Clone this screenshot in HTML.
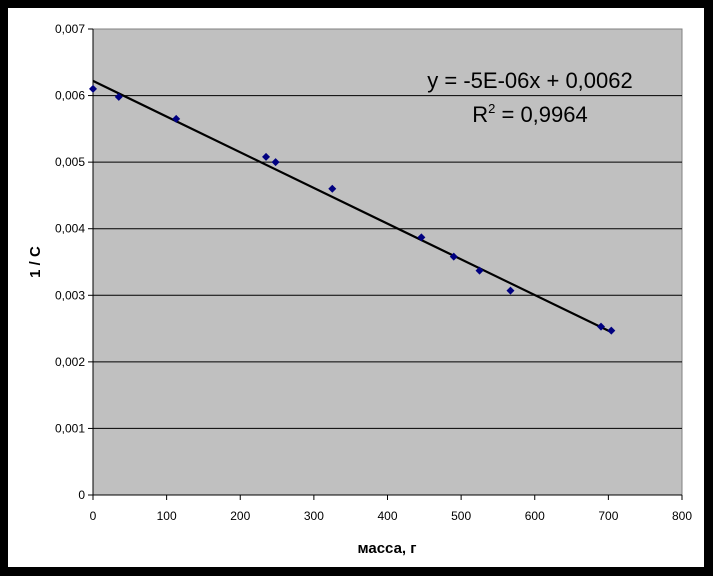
<!DOCTYPE html>
<html><head><meta charset="utf-8"><style>
body{margin:0;background:#000;}
svg{display:block;font-family:"Liberation Sans",Arial,sans-serif;}
</style></head><body>
<svg width="713" height="576">
<rect x="0" y="0" width="713" height="576" fill="#000"/>
<rect x="8" y="8" width="696" height="559" fill="#fff"/>
<rect x="93" y="29" width="589" height="466" fill="#c0c0c0" stroke="#808080"/>
<g id="grid"></g><g id="axes"></g><g id="trend"></g><g id="pts"></g>
<text x="360" y="88" font-size="22" text-anchor="middle"><tspan x="530">y = -5E-06x + 0,0062</tspan></text>
<text x="530" y="122" font-size="22" text-anchor="middle">R<tspan font-size="13" dy="-9">2</tspan><tspan dy="9"> = 0,9964</tspan></text>
<text x="387" y="553" font-size="15" font-weight="bold" text-anchor="middle">масса, г</text>
<text x="40" y="262" font-size="15" font-weight="bold" text-anchor="middle" transform="rotate(-90 40 262)">1 / C</text>
</svg>
<script>
const xVals=[0,35,113,235,248,325,446,490,525,567,690,704];
const yVals=[0.0061,0.00598,0.00565,0.00508,0.005,0.0046,0.00387,0.00358,0.00337,0.00307,0.00253,0.00247];
const xTicks=[0,100,200,300,400,500,600,700,800];
const yTicks=[0,0.001,0.002,0.003,0.004,0.005,0.006,0.007];
const yTickLabels=["0","0,001","0,002","0,003","0,004","0,005","0,006","0,007"];
const trendSlope=-5.36e-6, trendIntercept=0.00622;
const X0=93,X1=682,Y0=495,Y1=29;
const sx=v=>X0+(v-0)/(800)*(X1-X0);
const sy=v=>Y0-(v/0.007)*(Y0-Y1);
const NS="http://www.w3.org/2000/svg";
function mk(t,a,p){const e=document.createElementNS(NS,t);for(const k in a)e.setAttribute(k,a[k]);p.appendChild(e);return e;}
const grid=document.getElementById('grid'),axes=document.getElementById('axes'),trend=document.getElementById('trend'),pts=document.getElementById('pts');
yTicks.forEach((v,i)=>{const y=sy(v);
 if(v>0&&v<0.007){const g=mk('line',{x1:X0,x2:X1,y1:y,y2:y,stroke:'#000','stroke-width':1},grid);
 
 }
 const t=mk('line',{x1:X0-5,x2:X0,y1:y,y2:y,stroke:'#000'},axes);
 
 
 const l=mk('text',{x:X0-8,y:y+4,'font-size':12,'text-anchor':'end'},axes);l.textContent=yTickLabels[i];
 
 
});
xTicks.forEach(v=>{const x=sx(v);
 const t=mk('line',{x1:x,x2:x,y1:Y0,y2:Y0+5,stroke:'#000'},axes);
 
 
 const l=mk('text',{x:x,y:Y0+25,'font-size':12,'text-anchor':'middle'},axes);l.textContent=v;
 
 
});
const ya=mk('line',{x1:X0,x2:X0,y1:Y1,y2:Y0,stroke:'#000'},axes);


const xa=mk('line',{x1:X0,x2:X1,y1:Y0,y2:Y0,stroke:'#000'},axes);


const xmax=Math.max(...xVals);
const tl=mk('line',{x1:sx(0),y1:sy(trendIntercept),x2:sx(xmax),y2:sy(trendIntercept+trendSlope*xmax),stroke:'#000','stroke-width':2.2},trend);


xVals.forEach((xv,i)=>{const x=sx(xv),y=sy(yVals[i]);
 const p=mk('polygon',{points:`${x},${y-4} ${x+4},${y} ${x},${y+4} ${x-4},${y}`,fill:'#000080'},pts);
 
 
});
</script>
</body></html>
